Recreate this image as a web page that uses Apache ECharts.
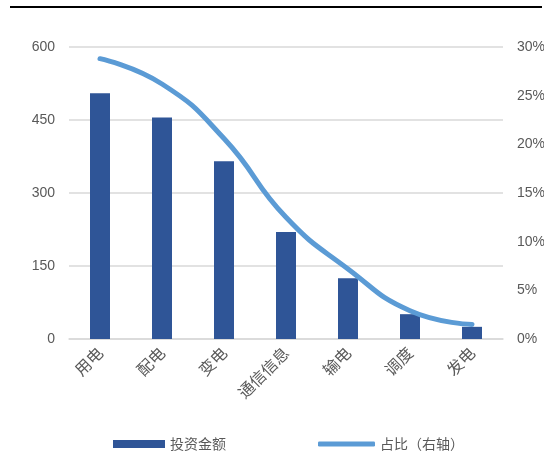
<!DOCTYPE html>
<html><head><meta charset="utf-8">
<script src="https://cdn.jsdelivr.net/npm/echarts@6/dist/echarts.min.js"></script>
<style>html,body{margin:0;padding:0;background:#fff}#c{width:558px;height:452px}</style>
</head><body><div id="c"></div>
<script>
const categories = ['用电','配电','变电','通信信息','输电','调度','发电'];
const investment = [505, 455, 365, 220, 125, 51, 25];
const share = [28.8, 26.2, 20.6, 12.5, 7.2, 2.9, 1.5];
const leftTicks = [0, 150, 300, 450, 600];
const rightTicks = [0, 5, 10, 15, 20, 25, 30];

const FONT = '"Liberation Sans", Arial, "Noto Sans CJK SC", sans-serif';
const CJK = '"Noto Sans CJK SC", sans-serif';
const chart = echarts.init(document.getElementById('c'), null, {renderer:'canvas'});
chart.setOption({
  animation:false,
  backgroundColor:'#fff',
  textStyle:{fontFamily:FONT},
  graphic:[
    {type:'line', shape:{x1:10,y1:7,x2:542,y2:7}, style:{stroke:'#000', lineWidth:2}},
    {type:'rect', z:100, shape:{x:544,y:0,width:14,height:452}, style:{fill:'#fff'}}
  ],
  grid:{left:69, right:55, top:47, bottom:113, containLabel:false},
  legend:[
    {top:432, left:108, itemWidth:52, itemHeight:8, padding:5,
     textStyle:{fontFamily:CJK, fontSize:14, color:'#595959'},
     data:[{name:'投资金额', icon:'rect'}]},
    {top:432, left:313, itemWidth:57, itemHeight:5, padding:5,
     textStyle:{fontFamily:CJK, fontSize:14, color:'#595959'},
     data:[{name:'占比（右轴）', icon:'roundRect'}]}
  ],
  xAxis:{
    type:'category', data:categories,
    axisLine:{show:true, lineStyle:{color:'#d9d9d9', width:1.5}},
    axisTick:{show:false},
    axisLabel:{rotate:45, fontSize:16, color:'#595959', margin:11, fontFamily:CJK}
  },
  yAxis:[
    {type:'value', min:leftTicks[0], max:leftTicks[leftTicks.length-1], interval:150,
     axisLine:{show:false}, axisTick:{show:false},
     axisLabel:{fontSize:14, color:'#595959', margin:14},
     splitLine:{lineStyle:{color:'#d9d9d9', width:1.5}}},
    {type:'value', min:rightTicks[0], max:rightTicks[rightTicks.length-1], interval:5,
     axisLine:{show:false}, axisTick:{show:false},
     axisLabel:{fontSize:14, color:'#595959', margin:14, formatter:'{value}%'},
     splitLine:{show:false}}
  ],
  series:[
    {name:'投资金额', type:'bar', data:investment, barWidth:20,
     itemStyle:{color:'#2F5597'}},
    {name:'占比（右轴）', type:'line', yAxisIndex:1, data:share, smooth:0.5,
     symbol:'none', lineStyle:{color:'#5B9BD5', width:5, cap:'round'},
     itemStyle:{color:'#5B9BD5'}}
  ]
});
</script></body></html>
